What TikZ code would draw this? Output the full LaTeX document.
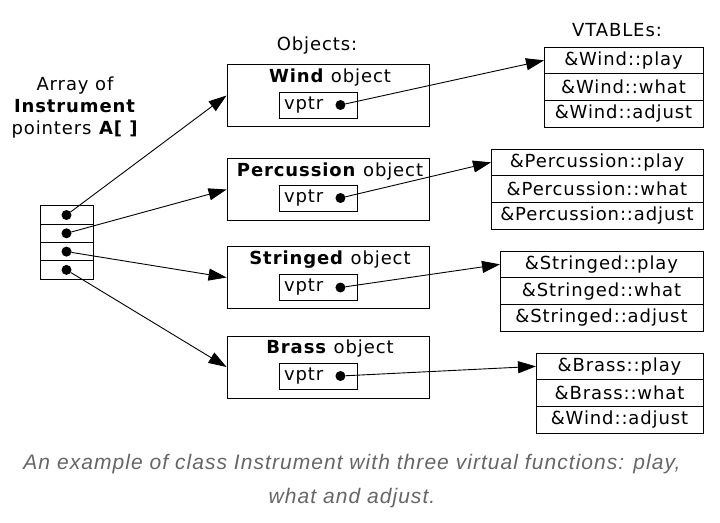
\documentclass[tikz,border=0pt]{standalone}
\usepackage{fontspec}
\setmainfont{DejaVu Sans}[LetterSpace=5]
\newfontfamily\capfont{Liberation Sans}[LetterSpace=5]
\usetikzlibrary{positioning,arrows.meta}
\definecolor{capgrey}{HTML}{666666}

\begin{document}
\begin{tikzpicture}[x=1pt,y=-1pt,-{Triangle[length=18pt,width=12pt]},line width=0.9pt,
		font=\fontsize{18}{22}\selectfont,
		cell/.style={draw,-,minimum width=53pt,minimum height=18.3pt,inner sep=0,outer sep=0},
		dot/.style={circle,fill,inner sep=0,outer sep=0,minimum size=10pt},
		obj/.style={draw,-,minimum width=202pt,minimum height=62pt,inner sep=0},
		vp/.style={draw,-,minimum height=26pt,text width=68pt,inner xsep=5pt,inner ysep=0,align=left},
		vrow/.style={draw,-,minimum height=26.7pt,inner sep=0,outer sep=0}]
			\useasboundingbox (0,0) rectangle (720,522);

			\node[align=center] (lab) at (75,108) {Array of\\\textbf{Instrument}\\pointers \textbf{A[ ]}};
			\node (objl) at (317,46) {Objects:};
			\node (vtl) at (617,30) {VTABLEs:};

			\node[cell] (a1) at (66.5,215) {};
			\node[cell] (a2) [below=0pt of a1] {};
			\node[cell] (a3) [below=0pt of a2] {};
			\node[cell] (a4) [below=0pt of a3] {};
			\node[dot] (d1) at (a1) {};
			\node[dot] (d2) at (a2) {};
			\node[dot] (d3) at (a3) {};
			\node[dot] (d4) at (a4) {};

			\node[obj] (w) at (328,95.5) {};
			\node[anchor=base] (wt) at (330,82) {\textbf{Wind} object};
			\node[vp] (wv) at (318,105) {vptr};
			\node[dot] (wd) [left=12pt of wv.east] {};

			\node[obj] (p) at (328,189.5) {};
			\node[anchor=base] (pt) at (330,176) {\textbf{Percussion} object};
			\node[vp] (pv) at (318,198) {vptr};
			\node[dot] (pd) [left=12pt of pv.east] {};

			\node[obj] (s) at (328,277.5) {};
			\node[anchor=base] (st) at (330,264) {\textbf{Stringed} object};
			\node[vp] (sv) at (318,287.5) {vptr};
			\node[dot] (sd) [left=12pt of sv.east] {};

			\node[obj] (b) at (328,367) {};
			\node[anchor=base] (bt) at (330,353) {\textbf{Brass} object};
			\node[vp] (bv) at (318,376) {vptr};
			\node[dot] (bd) [left=12pt of bv.east] {};

			\node[vrow,minimum width=159pt,anchor=north east] (wp) at (703,47) {\&Wind::play};
			\node[vrow,minimum width=159pt] (ww) [below=0pt of wp] {\&Wind::what};
			\node[vrow,minimum width=159pt] (wa) [below=0pt of ww] {\&Wind::adjust};

			\node[vrow,minimum width=212pt,anchor=north east] (pp) at (703,149) {\&Percussion::play};
			\node[vrow,minimum width=212pt] (pw) [below=0pt of pp] {\&Percussion::what};
			\node[vrow,minimum width=212pt] (pa) [below=0pt of pw] {\&Percussion::adjust};

			\node[vrow,minimum width=203pt,anchor=north east] (sp) at (703,251) {\&Stringed::play};
			\node[vrow,minimum width=203pt] (sw) [below=0pt of sp] {\&Stringed::what};
			\node[vrow,minimum width=203pt] (sa) [below=0pt of sw] {\&Stringed::adjust};

			\node[vrow,minimum width=167pt,anchor=north east] (bp) at (703,353) {\&Brass::play};
			\node[vrow,minimum width=167pt] (bw) [below=0pt of bp] {\&Brass::what};
			\node[vrow,minimum width=167pt] (ba) [below=0pt of bw] {\&Wind::adjust};

			\path
			(d1) edge (w.west)
			(d2) edge (p.west)
			(d3) edge (s.west)
			(d4) edge (b.west)
			(wd) edge (wp.west)
			(pd) edge (pp.west)
			(sd) edge (sp.west)
			(bd) edge (bp.west);

			\node[font=\capfont\itshape\fontsize{21}{34}\selectfont,text=capgrey,align=center] (cap) at (352,481)
			{An example of class Instrument with three virtual functions: play,\\what and adjust.};
		\end{tikzpicture}
\end{document}
